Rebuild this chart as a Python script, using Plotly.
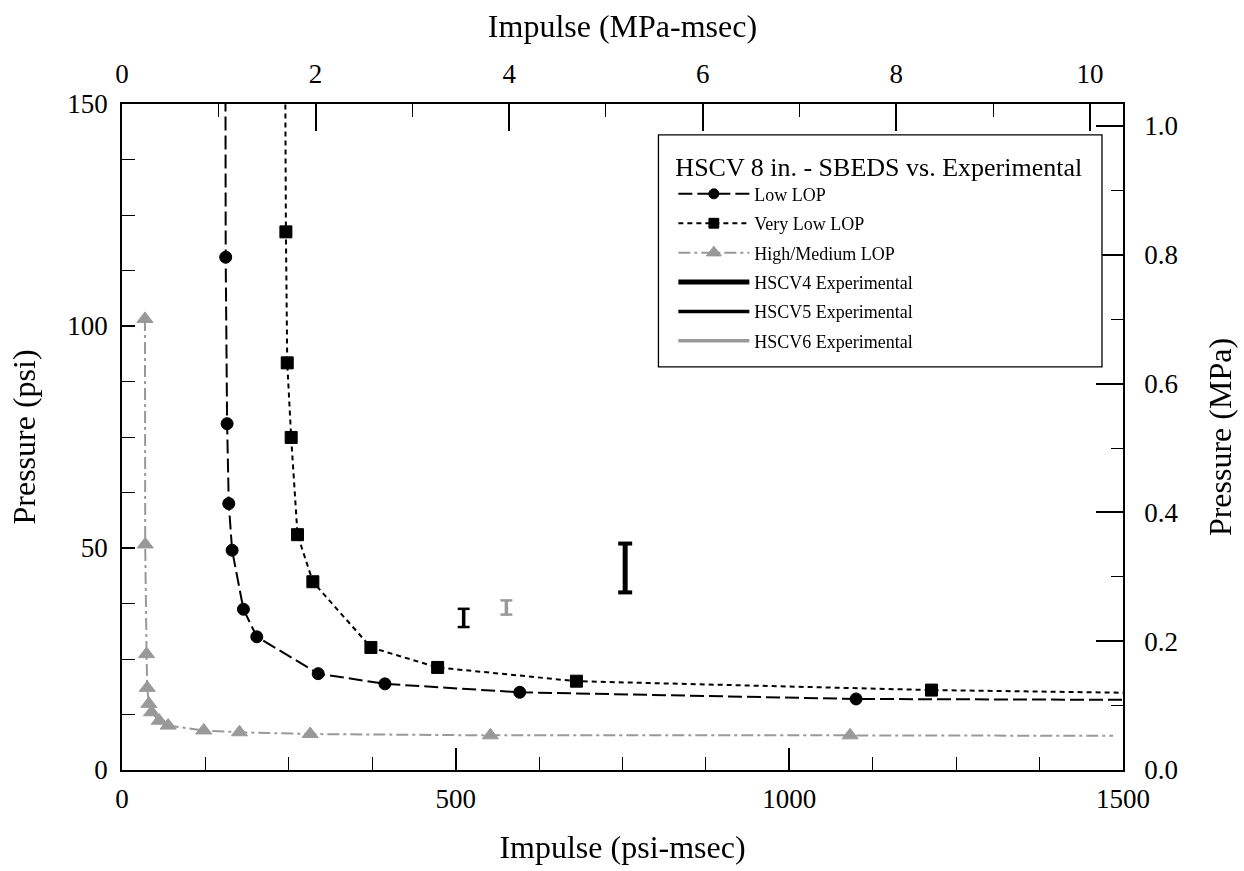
import plotly.graph_objects as go

PSI_PER_MPA = 145.038

# ---- Data ----
# Low LOP (circles), full curve incl. line-only ends
low_x = [155, 155.4, 157.5, 160, 165, 182, 202, 294, 394, 596, 1100, 1500]
low_y = [160, 115.5, 78.0, 60.0, 49.5, 36.2, 30.0, 21.7, 19.4, 17.5, 16.0, 15.8]
low_marker = [0, 1, 1, 1, 1, 1, 1, 1, 1, 1, 1, 0]

# Very Low LOP (squares)
vlow_x = [244.5, 245.6, 247.6, 253.5, 263, 286, 373, 473, 681, 1213, 1500]
vlow_y = [160, 121.2, 91.7, 74.9, 53.0, 42.4, 27.6, 23.1, 20.0, 18.0, 17.4]
vlow_marker = [0, 1, 1, 1, 1, 1, 1, 1, 1, 1, 0]

# High/Medium LOP (triangles)
high_x = [34.4, 34.8, 36.8, 37.8, 40.3, 44.3, 55.8, 69.2, 122.5, 176, 282, 552, 1091, 1485]
high_y = [101.6, 50.8, 26.1, 18.5, 14.9, 13.0, 11.1, 10.0, 8.9, 8.5, 8.1, 7.8, 7.8, 7.7]
high_marker = [1, 1, 1, 1, 1, 1, 1, 1, 1, 1, 1, 1, 1, 0]

# Experimental ranges (impulse, pressure min, pressure max)
hscv4_x = [754, 754]
hscv4_y = [40.0, 51.0]
hscv5_x = [512, 512]
hscv5_y = [32.2, 36.3]
hscv6_x = [576, 576]
hscv6_y = [35.0, 38.2]

x_range = [0, 1500]
y_range = [0, 150]

SERIF = "Liberation Serif"
GRAY = "#999999"

fig = go.Figure()

def sizes(flags, s):
    return [s if f else 0 for f in flags]

def series(xs, ys, flags, name, color, dash, symbol, size, grp):
    fig.add_trace(go.Scatter(
        x=xs, y=ys, mode="lines+markers", name=name,
        line=dict(color=color, width=2, dash=dash),
        marker=dict(symbol=symbol, color=color, opacity=1, size=sizes(flags, size),
                    line=dict(color=color, width=1)),
        legendgroup=grp))

series(low_x, low_y, low_marker, "Low LOP", "black", "14px,5px", "circle", 12, "a")
series(vlow_x, vlow_y, vlow_marker, "Very Low LOP", "black", "5px,4px", "square", 12, "b")
series(high_x, high_y, high_marker, "High/Medium LOP", GRAY, "12px,4px,3px,4px", "triangle-up", 14, "c")

def exp_trace(xs, ys, name, color, width, grp):
    fig.add_trace(go.Scatter(
        x=xs, y=ys, mode="lines", name=name,
        line=dict(color=color, width=width), legendgroup=grp))
    fig.add_trace(go.Scatter(
        x=xs, y=ys, mode="markers", showlegend=False, legendgroup=grp,
        marker=dict(symbol="line-ew", size=width + 5,
                    line=dict(color=color, width=width - 1 if width > 3 else 2))))

exp_trace(hscv4_x, hscv4_y, "HSCV4 Experimental", "black", 5, "d")
exp_trace(hscv5_x, hscv5_y, "HSCV5 Experimental", "black", 3.5, "e")
exp_trace(hscv6_x, hscv6_y, "HSCV6 Experimental", GRAY, 3.5, "f")

# invisible trace for secondary (SI) axes
fig.add_trace(go.Scatter(
    x=[x_range[0] / PSI_PER_MPA, x_range[1] / PSI_PER_MPA],
    y=[y_range[0] / PSI_PER_MPA, y_range[1] / PSI_PER_MPA],
    xaxis="x2", yaxis="y2", mode="markers", opacity=0,
    showlegend=False, hoverinfo="skip"))

tickfont = dict(family=SERIF, size=27, color="black")
titlefont = dict(family=SERIF, size=32, color="black")

fig.update_layout(
    width=1244, height=871,
    margin=dict(l=122, r=118, t=104, b=98),
    paper_bgcolor="white", plot_bgcolor="white",
    xaxis=dict(range=x_range, tickvals=[0, 500, 1000, 1500], ticks="inside",
               ticklen=22, tickwidth=1.5, tickcolor="black",
               minor=dict(dtick=125, ticks="inside", ticklen=13, tickcolor="black", tickwidth=1.2),
               showline=True, linecolor="black", linewidth=1.5, showgrid=False, zeroline=False,
               tickfont=tickfont, ticklabelstandoff=4,
               title=dict(text="Impulse (psi-msec)", font=titlefont, standoff=22)),
    yaxis=dict(range=y_range, tickvals=[0, 50, 100, 150], ticks="inside",
               ticklen=13, tickwidth=1.5, tickcolor="black",
               minor=dict(dtick=12.5, ticks="inside", ticklen=13, tickcolor="black", tickwidth=1.2),
               showline=True, linecolor="black", linewidth=1.5, showgrid=False, zeroline=False,
               tickfont=tickfont, ticklabelstandoff=7,
               title=dict(text="Pressure (psi)", font=titlefont, standoff=22)),
    xaxis2=dict(range=[x_range[0] / PSI_PER_MPA, x_range[1] / PSI_PER_MPA],
                overlaying="x", side="top", anchor="y",
                tickvals=[0, 2, 4, 6, 8, 10], ticks="inside",
                ticklen=27, tickwidth=1.5, tickcolor="black",
                minor=dict(dtick=1, ticks="inside", ticklen=13, tickcolor="black", tickwidth=1.2),
                showline=True, linecolor="black", linewidth=1.5, showgrid=False, zeroline=False,
                tickfont=tickfont, ticklabelstandoff=8,
                title=dict(text="Impulse (MPa-msec)", font=titlefont, standoff=12)),
    yaxis2=dict(range=[y_range[0] / PSI_PER_MPA, y_range[1] / PSI_PER_MPA],
                overlaying="y", side="right", anchor="x",
                tickvals=[0, 0.2, 0.4, 0.6, 0.8, 1.0], tickformat=".1f", ticks="inside",
                ticklen=27, tickwidth=1.5, tickcolor="black",
                minor=dict(dtick=0.1, ticks="inside", ticklen=12, tickcolor="black", tickwidth=1.2),
                showline=True, linecolor="black", linewidth=1.5, showgrid=False, zeroline=False,
                tickfont=tickfont, ticklabelstandoff=14,
                title=dict(text="Pressure (MPa)", font=titlefont, standoff=31)),
    shapes=[dict(type="rect", xref="paper", yref="paper",
                 x0=0.5359, x1=0.979, y0=0.6054, y1=0.9537,
                 fillcolor="white", line=dict(color="black", width=1.3), layer="above")],
    legend=dict(
        x=0.5508, y=0.9432, xanchor="left", yanchor="top",
        bgcolor="rgba(0,0,0,0)", borderwidth=0,
        font=dict(family=SERIF, size=18, color="black"),
        title=dict(text="HSCV 8 in. - SBEDS vs. Experimental",
                   font=dict(family=SERIF, size=26, color="black"), side="top"),
        itemwidth=71, tracegroupgap=3, traceorder="grouped"),
    showlegend=True,
)

fig.write_html("out.html", config={"displayModeBar": False},
               post_script="document.body.style.margin='0';document.body.style.overflow='hidden';")
